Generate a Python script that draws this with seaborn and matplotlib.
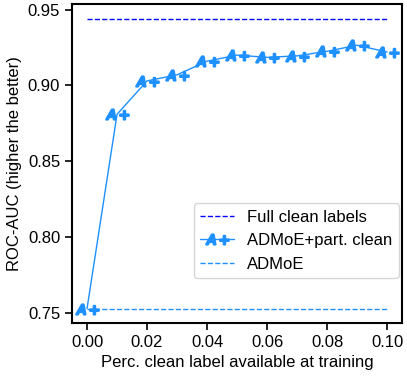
import pandas as pd
import matplotlib.pyplot as plt
import seaborn as sns

perc_clean = [0.0, 0.01, 0.02, 0.03, 0.04, 0.05, 0.06, 0.07, 0.08, 0.09, 0.10]
auc_partial = [0.753, 0.881, 0.903, 0.907, 0.916, 0.920, 0.9185, 0.9195, 0.9225, 0.9265, 0.922]
auc_full = 0.944
auc_admoe = 0.753

df = pd.DataFrame({'perc': perc_clean, 'auc': auc_partial})

sns.set_style('ticks')
plt.rcParams['font.family'] = ['Liberation Sans', 'DejaVu Sans']
plt.rcParams['font.size'] = 12
plt.rcParams['text.color'] = 'black'
plt.rcParams['axes.labelcolor'] = 'black'
plt.rcParams['xtick.color'] = 'black'
plt.rcParams['ytick.color'] = 'black'
plt.rcParams['axes.edgecolor'] = 'black'

fig, ax = plt.subplots(figsize=(4.07, 3.8), dpi=100)

ax.plot([perc_clean[0], perc_clean[-1]], [auc_full, auc_full], color='blue',
        linestyle='--', linewidth=1.0, label='Full clean labels')
sns.lineplot(data=df, x='perc', y='auc', ax=ax, color='dodgerblue',
             marker='$A+$', markersize=16, markeredgewidth=1.8,
             markeredgecolor='dodgerblue', linewidth=1, label='ADMoE+part. clean')
ax.plot([perc_clean[0], perc_clean[-1]], [auc_admoe, auc_admoe], color='dodgerblue',
        linestyle='--', linewidth=1.0, label='ADMoE')

ax.set_xlabel('Perc. clean label available at training', fontsize=12)
ax.set_ylabel('ROC-AUC (higher the better)', fontsize=12)
ax.set_xticks([0.0, 0.02, 0.04, 0.06, 0.08, 0.10])
ax.set_yticks([0.75, 0.80, 0.85, 0.90, 0.95])
ax.tick_params(labelsize=12, length=5, width=1.2)
for s in ax.spines.values():
    s.set_linewidth(1.5)

ax.legend(loc='lower right', bbox_to_anchor=(1.0, 0.13), borderaxespad=0.2,
          fontsize=12, handlelength=2.0)

fig.subplots_adjust(left=0.177, right=0.988, top=0.989, bottom=0.15)
plt.savefig('out.png', dpi=100)
